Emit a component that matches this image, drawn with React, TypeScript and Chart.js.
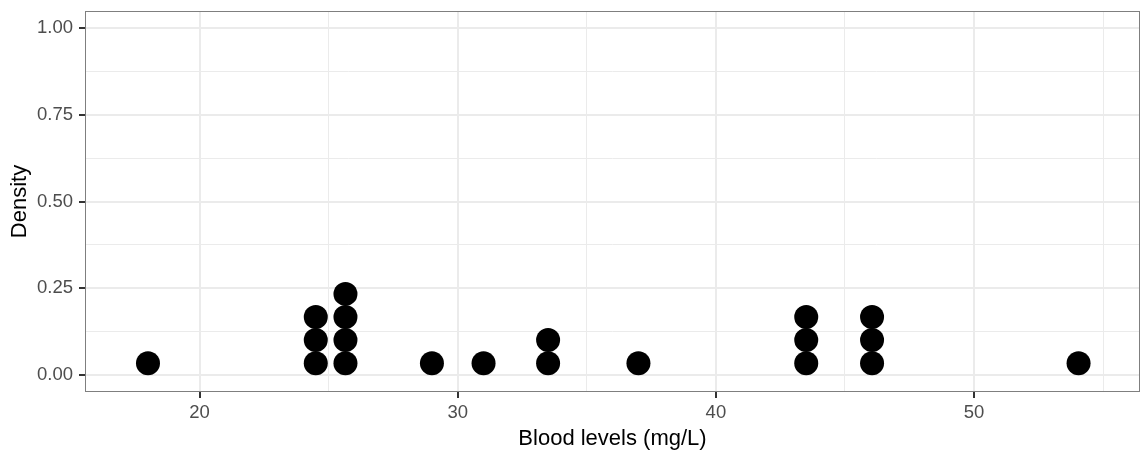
import React, { useEffect, useRef } from "react";
import { Chart, registerables } from "chart.js";

Chart.register(...registerables);

// Dot-plot bins: centre of each bin (mg/L) and number of stacked dots
const binCenters = [18.0, 24.5, 25.65, 29.0, 31.0, 33.5, 37.0, 43.5, 46.05, 54.05];
const binCounts = [1, 3, 4, 1, 1, 2, 1, 3, 3, 1];
// Height (density units) of each dot level in a stack
const stackLevels = [0.0333, 0.1, 0.1667, 0.2333];

const xTicks = [20, 25, 30, 35, 40, 45, 50, 55];
const xMajor = [20, 30, 40, 50];
const yTicks = [0, 0.125, 0.25, 0.375, 0.5, 0.625, 0.75, 0.875, 1.0];
const yMajor = [0, 0.25, 0.5, 0.75, 1.0];

const xTitle = "Blood levels (mg/L)";
const yTitle = "Density";

const FONT = "'Liberation Sans', Arial, sans-serif";

const isMajor = (v: number, list: number[]) => list.some((m) => Math.abs(m - v) < 1e-9);

const borderPlugin = {
  id: "panelBorder",
  afterDraw(chart: any) {
    const { ctx, chartArea } = chart;
    ctx.save();
    ctx.strokeStyle = "#7f7f7f";
    ctx.lineWidth = 1;
    ctx.strokeRect(
      chartArea.left + 0.5,
      chartArea.top + 0.5,
      chartArea.right - chartArea.left - 1,
      chartArea.bottom - chartArea.top - 1
    );
    ctx.restore();
  },
};

export default function App() {
  const ref = useRef<HTMLCanvasElement | null>(null);

  useEffect(() => {
    document.body.style.margin = "0";
    const points: { x: number; y: number }[] = [];
    binCenters.forEach((x, i) => {
      for (let k = 0; k < binCounts[i]; k++) points.push({ x, y: stackLevels[k] });
    });

    const chart = new Chart(ref.current as HTMLCanvasElement, {
      type: "scatter",
      data: {
        datasets: [
          {
            data: points,
            backgroundColor: "#000000",
            borderWidth: 0,
            pointRadius: 12,
            pointHoverRadius: 12,
          },
        ],
      },
      options: {
        animation: false,
        responsive: false,
        events: [],
        layout: { autoPadding: false, padding: { top: 11, right: 1, left: 0, bottom: 0 } },
        plugins: {
          legend: { display: false },
          tooltip: { enabled: false },
        },
        scales: {
          x: {
            type: "linear",
            min: 15.56,
            max: 56.43,
            afterBuildTicks: (s: any) => {
              s.ticks = xTicks.map((v) => ({ value: v }));
            },
            afterFit: (s: any) => {
              s.height = 63;
              s.paddingLeft = 0;
              s.paddingRight = 0;
            },
            border: { display: false },
            grid: {
              color: "#EBEBEB",
              lineWidth: (c: any) => (isMajor(c.tick.value, xMajor) ? 2 : 1),
              tickColor: (c: any) => (isMajor(c.tick.value, xMajor) ? "#333333" : "rgba(0,0,0,0)"),
              tickLength: 6,
              drawTicks: true,
            },
            ticks: {
              autoSkip: false,
              maxRotation: 0,
              padding: 4,
              color: "#4D4D4D",
              font: { family: FONT, size: 18.5 },
              callback: (v: any) => (isMajor(Number(v), xMajor) ? String(v) : ""),
            },
            title: {
              display: true,
              text: xTitle,
              color: "#000000",
              font: { family: FONT, size: 22 },
              padding: { top: 0, bottom: 3 },
            },
          },
          y: {
            type: "linear",
            min: -0.05,
            max: 1.05,
            afterBuildTicks: (s: any) => {
              s.ticks = yTicks.map((v) => ({ value: v }));
            },
            afterFit: (s: any) => {
              s.width = 85;
              s.paddingTop = 0;
              s.paddingBottom = 0;
            },
            border: { display: false },
            grid: {
              color: "#EBEBEB",
              lineWidth: (c: any) => (isMajor(c.tick.value, yMajor) ? 2 : 1),
              tickColor: (c: any) => (isMajor(c.tick.value, yMajor) ? "#333333" : "rgba(0,0,0,0)"),
              tickLength: 6,
              drawTicks: true,
            },
            ticks: {
              autoSkip: false,
              padding: 6,
              color: "#4D4D4D",
              font: { family: FONT, size: 18.5 },
              callback: (v: any) => (isMajor(Number(v), yMajor) ? Number(v).toFixed(2) : ""),
            },
            title: {
              display: true,
              text: yTitle,
              color: "#000000",
              font: { family: FONT, size: 22 },
              padding: { top: 7, bottom: 0 },
            },
          },
        },
      },
      plugins: [borderPlugin],
    });
    return () => chart.destroy();
  }, []);

  return (
    <div style={{ position: "fixed", left: 0, top: 0, width: 1141, height: 455, background: "#fff" }}>
      <canvas ref={ref} width={1141} height={455} />
    </div>
  );
}
